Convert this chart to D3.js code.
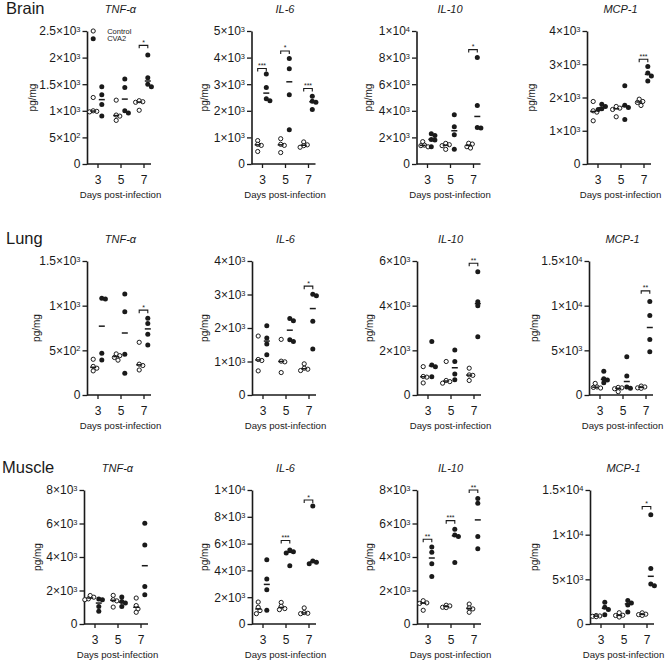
<!DOCTYPE html>
<html><head><meta charset="utf-8">
<script src="https://cdn.jsdelivr.net/npm/d3@7"></script>
<style>body{margin:0;background:#fff} svg{display:block} text{font-family:"Liberation Sans",Arial,sans-serif;fill:#1a1a1a}</style>
</head><body><svg id="c" width="666" height="661"></svg>
<script>
// ---------- categories ----------
const days = [3, 5, 7];
const tissues = ["Brain", "Lung", "Muscle"];
const cytokines = ["TNF-α", "IL-6", "IL-10", "MCP-1"];
const groups = ["Control", "CVA2"];

// ---------- values (pg/mg), per day [3,5,7] ----------
const brainTnfCtrl = [[1250,1000,990,980],[1200,920,900,820],[1190,1170,1160,1010]];
const brainTnfCva  = [[1450,1300,1120,900],[1600,1440,1000,960],[2050,1620,1500,1450]];
const brainIl6Ctrl = [[880,740,700,470],[950,740,700,430],[830,720,690,630]];
const brainIl6Cva  = [[3380,2880,2450,2380],[3970,3580,2600,1290],[2550,2360,2320,2050]];
const brainIl10Ctrl = [[1680,1420,1380,1290],[1550,1450,1380,1100],[1560,1500,1300,1200]];
const brainIl10Cva  = [[2270,2150,1850,1800,1300],[3700,2800,2200,1100],[8000,4400,2750,2700]];
const brainMcpCtrl = [[1880,1600,1560,1300],[1730,1680,1640,1420],[1950,1880,1850,1760]];
const brainMcpCva  = [[1800,1730,1660,1640],[2350,1770,1700,1340],[2930,2740,2650,2500]];

const lungTnfCtrl = [[400,320,300,270],[460,440,420,390],[590,345,330,280]];
const lungTnfCva  = [[1082,1075,466,392],[1130,933,455,243],[860,800,680,560]];
const lungIl6Ctrl = [[1760,1060,1030,720],[1660,1010,990,670],[930,800,770,730]];
const lungIl6Cva  = [[2070,1700,1520,1200],[2280,2220,1650,1600],[3010,2960,2200,1370]];
const lungIl10Ctrl = [[1270,830,800,540],[1500,650,600,530],[1200,900,880,650]];
const lungIl10Cva  = [[2390,1340,1270,820],[2020,1500,940,680],[5520,4180,4000,2610]];
const lungMcpCtrl = [[1300,900,850,780],[850,800,700,370],[1000,900,800,750]];
const lungMcpCva  = [[2670,1820,1670,1370],[4270,2120,900,750],[10470,8910,6200,4830]];

const muscleTnfCtrl = [[1700,1600,1500,1450],[1710,1450,1380,1010],[1550,1100,900,700]];
const muscleTnfCva  = [[1500,1450,1050,760],[1610,1350,1250,1050],[6020,4720,2240,1750]];
const muscleIl6Ctrl = [[1640,1250,1000,770],[1610,1320,1150,1070],[1200,850,800,770]];
const muscleIl6Cva  = [[4790,3350,2560,1020],[5530,5400,5300,4340],[8810,4700,4600,4500]];
const muscleIl10Ctrl = [[1390,1260,1230,820],[1120,1080,1000,980],[1190,960,900,700]];
const muscleIl10Cva  = [[4590,4290,3590,2840],[5660,5320,5220,3670],[7500,7210,5220,4490]];
const muscleMcpCtrl = [[950,900,860,820],[1260,980,950,780],[1250,1100,1050,960]];
const muscleMcpCva  = [[2440,1880,1630,1040],[2620,2360,2140,1330],[12230,6210,4470,4290]];

// ---------- tick values and labels ----------
const ticks2500 = [0,500,1000,1500,2000,2500];
const labels2500 = ["0","5×10^2","1×10^3","1.5×10^3","2×10^3","2.5×10^3"];
const ticks5000 = [0,1000,2000,3000,4000,5000];
const labels5000 = ["0","1×10^3","2×10^3","3×10^3","4×10^3","5×10^3"];
const ticks10k = [0,2000,4000,6000,8000,10000];
const labels10k = ["0","2×10^3","4×10^3","6×10^3","8×10^3","1×10^4"];
const ticks4000 = [0,1000,2000,3000,4000];
const labels4000 = ["0","1×10^3","2×10^3","3×10^3","4×10^3"];
const ticks1500 = [0,500,1000,1500];
const labels1500 = ["0","5×10^2","1×10^3","1.5×10^3"];
const ticks6000 = [0,2000,4000,6000];
const labels6000 = ["0","2×10^3","4×10^3","6×10^3"];
const ticks15k = [0,5000,10000,15000];
const labels15k = ["0","5×10^3","1×10^4","1.5×10^4"];
const ticks8000 = [0,2000,4000,6000,8000];
const labels8000 = ["0","2×10^3","4×10^3","6×10^3","8×10^3"];

// ---------- significance (per day) ----------
const brainTnfSig = [null,null,"*"],     brainTnfSigAt = [null,null,2230];
const brainIl6Sig = ["***","*","***"],  brainIl6SigAt = [3590,4250,2840];
const brainIl10Sig = [null,null,"*"],    brainIl10SigAt = [null,null,8600];
const brainMcpSig = [null,null,"***"],   brainMcpSigAt = [null,null,3150];
const lungTnfSig = [null,null,"*"],      lungTnfSigAt = [null,null,950];
const lungIl6Sig = [null,null,"*"],      lungIl6SigAt = [null,null,3250];
const lungIl10Sig = [null,null,"**"],    lungIl10SigAt = [null,null,5900];
const lungMcpSig = [null,null,"**"],     lungMcpSigAt = [null,null,11660];
const muscleTnfSig = [null,null,null],   muscleTnfSigAt = [null,null,null];
const muscleIl6Sig = [null,"***","*"],   muscleIl6SigAt = [null,6230,9250];
const muscleIl10Sig = ["**","***","**"], muscleIl10SigAt = [5060,6170,8000];
const muscleMcpSig = [null,null,"*"],    muscleMcpSigAt = [null,null,13150];

// ---------- table built from the arrays ----------
const table = [
  [[brainTnfCtrl,brainTnfCva,ticks2500,labels2500,brainTnfSig,brainTnfSigAt],
   [brainIl6Ctrl,brainIl6Cva,ticks5000,labels5000,brainIl6Sig,brainIl6SigAt],
   [brainIl10Ctrl,brainIl10Cva,ticks10k,labels10k,brainIl10Sig,brainIl10SigAt],
   [brainMcpCtrl,brainMcpCva,ticks4000,labels4000,brainMcpSig,brainMcpSigAt]],
  [[lungTnfCtrl,lungTnfCva,ticks1500,labels1500,lungTnfSig,lungTnfSigAt],
   [lungIl6Ctrl,lungIl6Cva,ticks4000,labels4000,lungIl6Sig,lungIl6SigAt],
   [lungIl10Ctrl,lungIl10Cva,ticks6000,labels6000,lungIl10Sig,lungIl10SigAt],
   [lungMcpCtrl,lungMcpCva,ticks15k,labels15k,lungMcpSig,lungMcpSigAt]],
  [[muscleTnfCtrl,muscleTnfCva,ticks8000,labels8000,muscleTnfSig,muscleTnfSigAt],
   [muscleIl6Ctrl,muscleIl6Cva,ticks10k,labels10k,muscleIl6Sig,muscleIl6SigAt],
   [muscleIl10Ctrl,muscleIl10Cva,ticks8000,labels8000,muscleIl10Sig,muscleIl10SigAt],
   [muscleMcpCtrl,muscleMcpCva,ticks15k,labels15k,muscleMcpSig,muscleMcpSigAt]]
];

// ---------- layout ----------
const rowTop = [31, 261, 490];
const rowZero = [164, 395, 624];
const axisXs = [[87,251.5,416.5,587],[87,252,417,589],[84,252,417,590]];
const ylabelXs = [[32,204,368,531],[36,204,369,534],[37,204,369,534]];
const rowLabelX = [6,6,2];
const ink = "#1a1a1a";

const svg = d3.select("#c");

function supLabel(sel, lab){
  sel.text(null);
  const parts = lab.split("^");
  sel.append("tspan").text(parts[0]);
  if (parts[1]) sel.append("tspan").attr("dy","-0.45em").attr("font-size","0.62em").text(parts[1]);
}

tissues.forEach((tn, r) => {
  svg.append("text").attr("x", rowLabelX[r]).attr("y", rowTop[r]-17)
    .attr("font-size", 16.5).text(tn);
  cytokines.forEach((cy, c) => drawPanel(r, c, cy));
});

function drawPanel(r, c, cyName){
  const [ctrl, cva, ticks, labels, sig, sigAt] = table[r][c];
  const ax = axisXs[r][c];
  const x = d3.scaleLinear().domain([3,7]).range([ax+10.5, ax+56.5]);
  const y = d3.scaleLinear().domain([0, d3.max(ticks)]).range([rowZero[r], rowTop[r]]);
  const g = svg.append("g");

  // y axis
  const ya = g.append("g").attr("transform",`translate(${ax},0)`)
    .call(d3.axisLeft(y).tickValues(ticks).tickSize(4.5).tickPadding(2).tickSizeOuter(0));
  ya.attr("font-family", null).attr("font-size", null);
  ya.select(".domain").attr("stroke", ink).attr("stroke-width", 1.6);
  ya.selectAll(".tick line").attr("stroke", ink).attr("stroke-width", 1.3);
  ya.selectAll(".tick text").attr("font-size", 12).attr("fill", ink)
    .each(function(d, i){ supLabel(d3.select(this), labels[i]); });

  // x axis
  const xa = g.append("g").attr("transform",`translate(0,${rowZero[r]})`)
    .call(d3.axisBottom(x).tickValues(days).tickFormat(d3.format("d")).tickSize(4).tickPadding(7).tickSizeOuter(0));
  xa.attr("font-family", null).attr("font-size", null);
  xa.select(".domain").attr("d", `M${ax},0H${ax+64}`).attr("stroke", ink).attr("stroke-width", 1.6);
  xa.selectAll(".tick line").attr("stroke", ink).attr("stroke-width", 1.3);
  xa.selectAll(".tick text").attr("font-size", 12).attr("fill", ink);

  // titles
  g.append("text").attr("x", x(5)).attr("y", rowTop[r]-18).attr("text-anchor","middle")
    .attr("font-size", 11).attr("font-style","italic").text(cyName);
  g.append("text").attr("x", x(5)).attr("y", rowZero[r]+33.5).attr("text-anchor","middle")
    .attr("font-size", 9.6).text("Days post-infection");
  const ym = (rowTop[r]+rowZero[r])/2;
  g.append("text").attr("transform",`translate(${ylabelXs[r][c]},${ym}) rotate(-90)`)
    .attr("text-anchor","middle").attr("dy","0.35em").attr("font-size", 10).text("pg/mg");

  // points
  days.forEach((d, i) => {
    [[ctrl[i], -4.3, false],[cva[i], 4.3, true]].forEach(([vals, dx, filled]) => {
      const cx0 = x(d) + dx;
      const placed = [];
      vals.slice().sort((a,b)=>b-a).forEach(v => {
        const cyv = y(v);
        let off = 0;
        for (const o of [0,1.8,-1.8,3.6,-3.6,5.4,-5.4]) {
          if (placed.every(p => Math.hypot(p[0]-o, p[1]-cyv) >= 3.6)) { off = o; break; }
        }
        placed.push([off, cyv]);
      });
      g.append("g").selectAll("circle").data(placed).join("circle")
        .attr("cx", p => cx0 + p[0]).attr("cy", p => p[1])
        .attr("r", filled ? 2.5 : 2.1)
        .attr("fill", filled ? ink : "#fff")
        .attr("stroke", ink).attr("stroke-width", filled ? 0 : 1);
      const med = d3.median(vals);
      g.append("line").attr("x1", cx0-3).attr("x2", cx0+3)
        .attr("y1", y(med)).attr("y2", y(med))
        .attr("stroke", ink).attr("stroke-width", 1.5);
    });
    if (sig[i]) {
      const by = y(sigAt[i]);
      const x1 = x(d)-4.3, x2 = x(d)+4.3;
      g.append("path").attr("d", `M${x1},${by+3}V${by}H${x2}V${by+3}`)
        .attr("fill","none").attr("stroke", ink).attr("stroke-width", 1.1);
      g.append("text").attr("x", x(d)).attr("y", by-0.5).attr("text-anchor","middle")
        .attr("font-size", 7).text(sig[i]);
    }
  });

  // legend (first panel only)
  if (r === 0 && c === 0) {
    const lx = x(3) - 4.3;
    const leg = g.append("g");
    [[groups[0], rowTop[r], false],[groups[1], rowTop[r]+7.7, true]].forEach(([name, ly, filled]) => {
      leg.append("circle").attr("cx", lx).attr("cy", ly).attr("r", filled ? 2.5 : 2.1)
        .attr("fill", filled ? ink : "#fff").attr("stroke", ink).attr("stroke-width", filled ? 0 : 1);
      leg.append("text").attr("x", lx+14).attr("y", ly).attr("dy","0.35em")
        .attr("font-size", 7.5).text(name);
    });
  }
}
</script></body></html>
